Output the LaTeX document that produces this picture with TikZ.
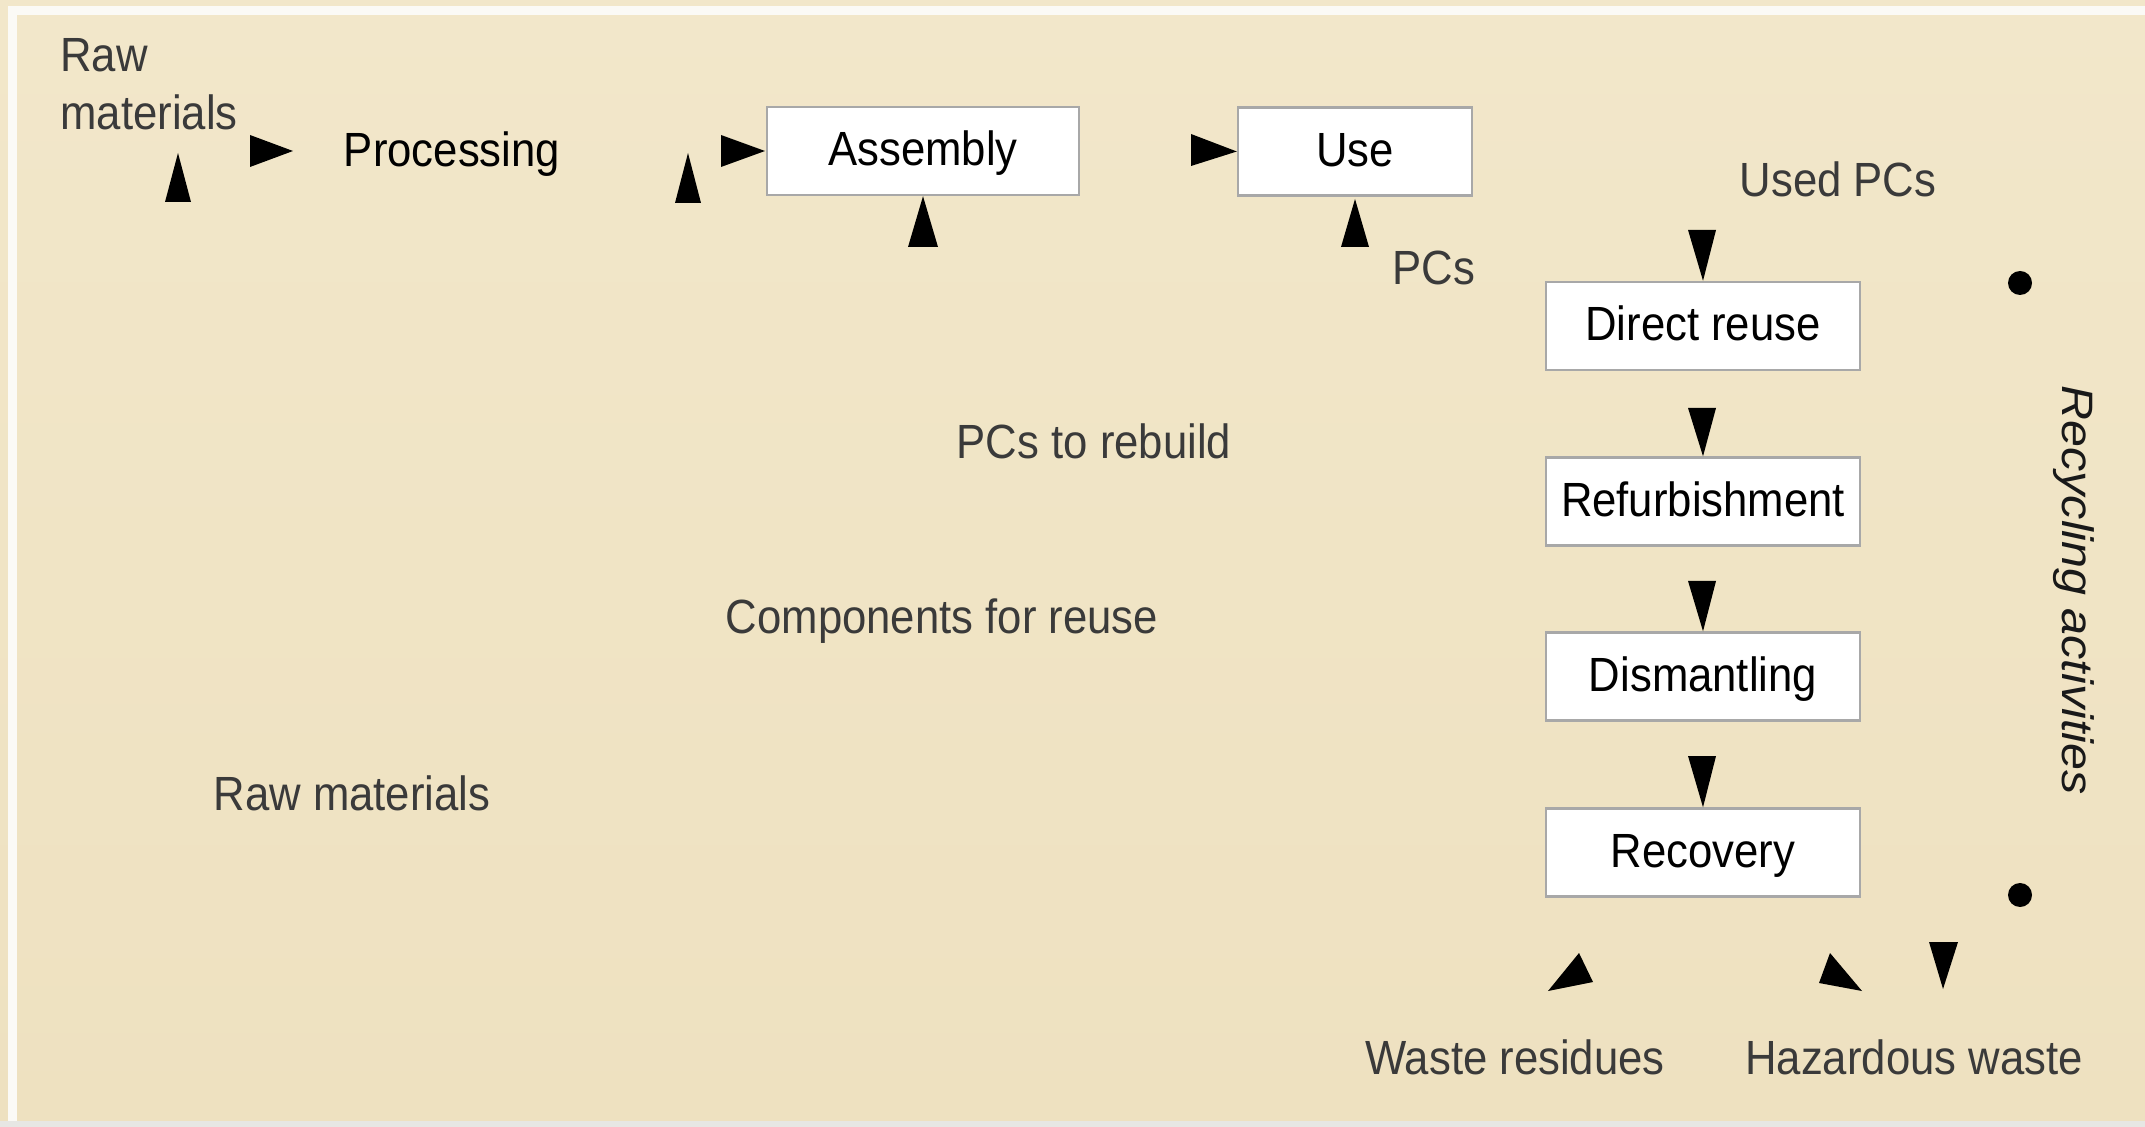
\documentclass[tikz,border=0pt]{standalone}
\usepackage{fontspec}
\setmainfont[FakeStretch=0.91]{Liberation Sans}
\newfontfamily\rotfont[FakeStretch=1.1]{Liberation Sans}
\definecolor{bgtop}{HTML}{F2E7CA}
\definecolor{bgbot}{HTML}{EEE1C0}
\definecolor{labelgray}{HTML}{3A3A3A}
\definecolor{boxgray}{HTML}{A8A8A8}
\definecolor{framewhite}{HTML}{FBFAF6}
\definecolor{stripgray}{HTML}{E7E7E4}
\begin{document}
\begin{tikzpicture}[x=0.5pt,y=-0.5pt,
  lbl/.style={inner sep=0pt, anchor=base, text=labelgray, font=\fontsize{24}{28}\selectfont},
  blk/.style={lbl, text=black},
  procbox/.style={draw=boxgray, fill=white, line width=1.2pt, inner sep=0pt,
    text=black, font=\fontsize{24}{28}\selectfont, text height=17pt, text depth=2pt,
    minimum height=44pt},
  head/.style={fill=black},
  dot/.style={circle, fill=black, inner sep=0pt, minimum size=12pt}
]
% background and frame
\shade[top color=bgtop, bottom color=bgbot] (0,0) rectangle (2145,1127);
\useasboundingbox (0,0) rectangle (2145,1127);
\draw[framewhite, line width=4.5pt] (8,10.5) -- (2145,10.5);
\draw[framewhite, line width=4.5pt] (12.5,6) -- (12.5,1121);
\fill[stripgray] (0,1121) rectangle (2145,1127);

% boxes
\node[procbox, minimum width=156pt] (asm) at (923,151) {Assembly};
\node[procbox, minimum width=117pt] (use) at (1355,151.5) {Use};
\node[procbox, minimum width=157pt] (dr)  at (1703,326) {Direct reuse};
\node[procbox, minimum width=157pt] (ref) at (1703,501.5) {Refurbishment};
\node[procbox, minimum width=157pt] (dis) at (1703,676.5) {Dismantling};
\node[procbox, minimum width=157pt] (rec) at (1703,852.5) {Recovery};

% labels
\node[lbl, anchor=base west] (raw1) at (60,72) {Raw};
\node[lbl, anchor=base west] (raw2) at (60,130) {materials};
\node[blk] (proc) at (452,167) {Processing};
\node[lbl, anchor=base west] (pcs) at (1392,285) {PCs};
\node[lbl] (used) at (1838,197) {Used PCs};
\node[lbl] (rebuild) at (1094,459) {PCs to rebuild};
\node[lbl] (comp) at (942,633) {Components for reuse};
\node[lbl] (raw3) at (352,810) {Raw materials};
\node[lbl] (waste) at (1515,1074) {Waste residues};
\node[lbl] (haz) at (1914,1074) {Hazardous waste};
\node[inner sep=0pt, anchor=base, rotate=-90, text=black!90,
  font=\rotfont\itshape\fontsize{22}{26}\selectfont] (recyc) at (2062,590) {Recycling activities};

% bullet dots
\node[dot] (d1) at (2020,283) {};
\node[dot] (d2) at (2020,895) {};

% arrowheads (connector lines are absent in the picture)
\fill[head] (178,153) -- (165,202) -- (191,202) -- cycle;
\fill[head] (293,151) -- (250,135) -- (250,167) -- cycle;
\fill[head] (688,153) -- (675,203) -- (701,203) -- cycle;
\fill[head] (765,151) -- (721,135) -- (721,167) -- cycle;
\fill[head] (asm.south) -- (908,247) -- (938,247) -- cycle;
\fill[head] (use.west) -- (1191,134) -- (1191,166) -- cycle;
\fill[head] (1355,199) -- (1341,247) -- (1369,247) -- cycle;
\fill[head] (dr.north) -- (1688,230) -- (1716,230) -- cycle;
\fill[head] (ref.north) -- (1688,408) -- (1716,408) -- cycle;
\fill[head] (dis.north) -- (1688,581) -- (1716,581) -- cycle;
\fill[head] (rec.north) -- (1688,756) -- (1716,756) -- cycle;
\fill[head] (1579,953) -- (1548,991) -- (1593,982) -- cycle;
\fill[head] (1830,953) -- (1819,983) -- (1862,991) -- cycle;
\fill[head] (1943,989) -- (1929,942) -- (1958,942) -- cycle;
\end{tikzpicture}
\end{document}
